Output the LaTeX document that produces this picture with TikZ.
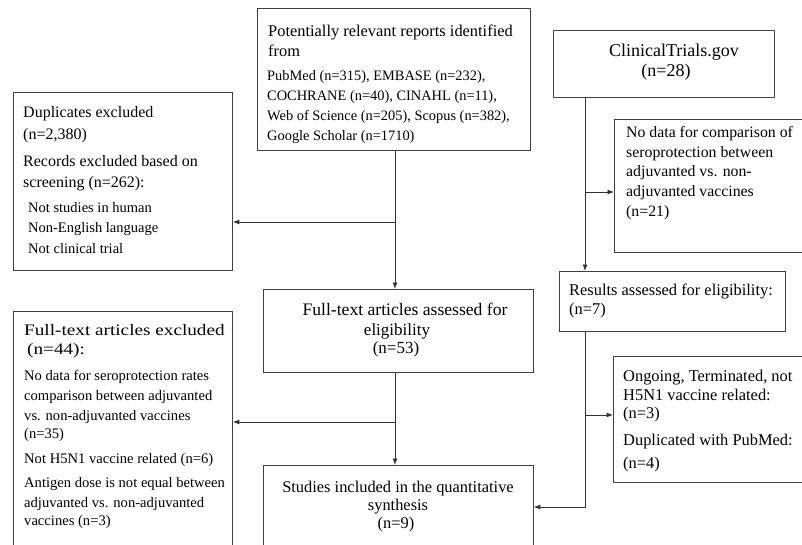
\documentclass[tikz,border=0pt]{standalone}
\usepackage{fontspec}
\setmainfont{Liberation Serif}
\newfontfamily\widefont[FakeStretch=1.2]{Liberation Serif}
\usetikzlibrary{arrows.meta}
\begin{document}
\begin{tikzpicture}[x=1pt,y=-1pt,
  box/.style={draw=black!75, line width=0.8pt, inner sep=0pt, anchor=north west},
  arr/.style={draw=black!80, line width=0.8pt, -{Latex[length=6.5pt,width=5pt]}},
  ln/.style={anchor=base west, inner sep=0pt},
  lc/.style={anchor=base, inner sep=0pt},
  fa/.style={font=\fontsize{16.4}{18}\selectfont},
  fb/.style={font=\fontsize{14.4}{16}\selectfont},
  fc/.style={font=\fontsize{18}{20}\selectfont},
  fd/.style={font=\fontsize{15.8}{18}\selectfont},
  fe/.style={font=\fontsize{17}{19}\selectfont},
  fe1/.style={font=\fontsize{17.6}{19}\selectfont},
  ff/.style={font=\widefont\fontsize{16}{18}\selectfont},
  fg/.style={font=\fontsize{14.6}{16}\selectfont},
  fh/.style={font=\fontsize{14.5}{17}\selectfont},
  fi/.style={font=\fontsize{16}{18}\selectfont}]
\useasboundingbox (0,0) rectangle (802,545);
\clip (0,0) rectangle (802,545);
\fill[white] (0,0) rectangle (802,545);
% boxes
\node[box, minimum width=273pt, minimum height=142pt] (top) at (257,8) {};
\node[box, minimum width=219pt, minimum height=178pt] (dup) at (13,92) {};
\node[box, minimum width=221pt, minimum height=67pt] (ct) at (553,30) {};
\node[box, minimum width=216pt, minimum height=133pt] (nodata) at (614,119) {};
\node[box, minimum width=270pt, minimum height=83pt] (fta) at (263,289) {};
\node[box, minimum width=226pt, minimum height=60pt] (res) at (559,271) {};
\node[box, minimum width=219pt, minimum height=249pt] (fte) at (13,311) {};
\node[box, minimum width=217pt, minimum height=126pt] (ong) at (613,356) {};
\node[box, minimum width=270pt, minimum height=95pt] (stud) at (263,465) {};
% texts
\foreach \y/\t [count=\i] in {37/{Potentially relevant reports identified}, 57/{from}}
  \node[ln, fa] (topa\i) at (268,\y) {\t};
\foreach \y/\t [count=\i] in {81/{PubMed (n=315), EMBASE (n=232),}, 101/{COCHRANE (n=40), CINAHL (n=11),}, 121/{Web of Science (n=205), Scopus (n=382),}, 141/{Google Scholar (n=1710)}}
  \node[ln, fb] (topb\i) at (267,\y) {\t};
\foreach \y/\t [count=\i] in {118/{Duplicates excluded}, 140/{(n=2,380)}, 167/{Records excluded based on}, 188/{screening (n=262):}}
  \node[ln, fi] (dupa\i) at (23,\y) {\t};
\foreach \y/\t [count=\i] in {213/{Not studies in human}, 233/{Non-English language}, 253/{Not clinical trial}}
  \node[ln, fh] (dupb\i) at (28,\y) {\t};
\node[lc, fc] (cta1) at (674,57) {ClinicalTrials.gov};
\node[lc, fc] (cta2) at (666,77) {(n=28)};
\foreach \y/\t [count=\i] in {138/{No data for comparison of}, 158/{seroprotection between}, 177/{adjuvanted vs. non-}, 197/{adjuvanted vaccines}, 217/{(n=21)}}
  \node[ln, fd] (nda\i) at (626,\y) {\t};
\foreach \y/\t [count=\i] in {295/{Results assessed for eligibility:}, 314/{(n=7)}}
  \node[ln, fa] (resa\i) at (569,\y) {\t};
\foreach \y/\t [count=\i] in {381/{Ongoing, Terminated, not}, 400/{H5N1 vaccine related:}, 418/{(n=3)}, 445/{Duplicated with PubMed:}, 468/{(n=4)}}
  \node[ln, fa] (onga\i) at (623,\y) {\t};
\node[lc, fe1] (ftaa1) at (405,315) {Full-text articles assessed for};
\node[lc, fe] (ftaa2) at (397,335) {eligibility};
\node[lc, fe] (ftaa3) at (396,353) {(n=53)};
\node[lc, fa] (studa1) at (398,492) {Studies included in the quantitative};
\node[lc, fa] (studa2) at (398,510) {synthesis};
\node[lc, fa] (studa3) at (396,528) {(n=9)};
\node[ln, ff] (ftea1) at (24,335) {Full-text articles excluded};
\node[ln, ff] (ftea2) at (27,354) {(n=44):};
\foreach \y/\t [count=\i] in {380/{No data for seroprotection rates}, 400/{comparison between adjuvanted}, 420/{vs. non-adjuvanted vaccines}, 438/{(n=35)}, 463/{Not H5N1 vaccine related (n=6)}, 487/{Antigen dose is not equal between}, 507/{adjuvanted vs. non-adjuvanted}, 525/{vaccines (n=3)}}
  \node[ln, fg] (fteb\i) at (24,\y) {\t};
% connectors
\coordinate (cx) at (395,0);
\coordinate (rx) at (585,0);
\coordinate (b1) at (395,222);
\coordinate (b2) at (395,422);
\coordinate (b3) at (585,192);
\coordinate (b4) at (585,415);
\coordinate (b5) at (585,507);
\draw[arr] (top.south -| cx) -- (fta.north -| cx);
\draw[arr] (b1) -- (b1 -| dup.east);
\draw[arr] (fta.south -| cx) -- (stud.north -| cx);
\draw[arr] (b2) -- (b2 -| fte.east);
\draw[arr] (ct.south -| rx) -- (res.north -| rx);
\draw[arr] (b3) -- (b3 -| nodata.west);
\draw[arr] (res.south -| rx) -- (b5) -- (b5 -| stud.east);
\draw[arr] (b4) -- (b4 -| ong.west);
\end{tikzpicture}
\end{document}
